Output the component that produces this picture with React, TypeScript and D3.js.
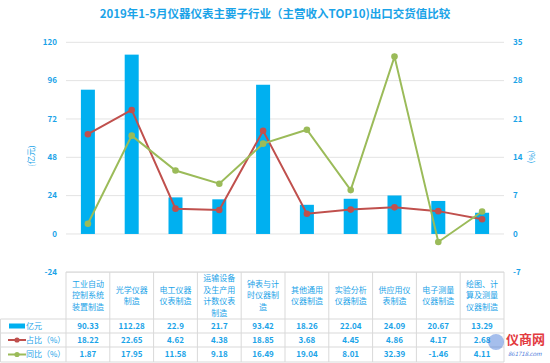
import React from "react";
import * as d3 from "d3";

const categories: string[][] = [
  ["工业自动", "控制系统", "装置制造"],
  ["光学仪器", "制造"],
  ["电工仪器", "仪表制造"],
  ["运输设备", "及生产用", "计数仪表", "制造"],
  ["钟表与计", "时仪器制", "造"],
  ["其他通用", "仪器制造"],
  ["实验分析", "仪器制造"],
  ["供应用仪", "表制造"],
  ["电子测量", "仪器制造"],
  ["绘图、计", "算及测量", "仪器制造"],
];
const value: number[] = [90.33, 112.28, 22.9, 21.7, 93.42, 18.26, 22.04, 24.09, 20.67, 13.29];
const share: number[] = [18.22, 22.65, 4.62, 4.38, 18.85, 3.68, 4.45, 4.86, 4.17, 2.68];
const growth: number[] = [1.87, 17.95, 11.58, 9.18, 16.49, 19.04, 8.01, 32.39, -1.46, 4.11];
const leftTicks: number[] = [-24, 0, 24, 48, 72, 96, 120];
const rightTicks: number[] = [-7, 0, 7, 14, 21, 28, 35];
const seriesNames = ["亿元", "占比（%）", "同比（%）"];

const BLUE = "#00B0F0";
const RED = "#C0504D";
const GREEN = "#9BBB59";
const TXT = "#1AA3E8";
const GRID = "#E3E3E3";
const BORDER = "#D9D9D9";
const FONT = "'Noto Sans CJK SC', 'Noto Sans', sans-serif";

export default function App() {
  const W = 550, H = 363;
  const left = 66, right = 504;
  const top = 42.3, bottom = 272.3;
  const ids = categories.map((_, i) => String(i));
  const x = d3.scaleBand<string>().domain(ids).range([left, right]).padding(0);
  const yL = d3.scaleLinear().domain([-24, 120]).range([bottom, top]);
  const yR = d3.scaleLinear().domain([-7, 35]).range([bottom, top]);
  const cx = (i: number) => (x(String(i)) as number) + x.bandwidth() / 2;
  const barW = 14;

  const line = d3
    .line<number>()
    .x((_, i) => cx(i))
    .y((d) => yR(d));

  const tableTop = 272;
  const rowLines = [319, 333, 347, 362];
  const rowCenters = [326, 340, 354.5];
  const headerCenter = (tableTop + rowLines[0]) / 2;
  const rows = [value, share, growth];
  const fmt = (v: number) => String(v);

  return (
    <svg
      width={W}
      height={H}
      style={{ position: "absolute", left: 0, top: 0, background: "#fff" }}
      fontFamily={FONT}
    >
      <rect x={0} y={0} width={W} height={H} fill="#fff" />
      <text x={275} y={18} textAnchor="middle" fontSize={11.5} fontWeight="bold" fill={TXT}>
        2019年1-5月仪器仪表主要子行业（主营收入TOP10)出口交货值比较
      </text>

      {leftTicks.map((t) => (
        <g key={"g" + t}>
          <line x1={left} x2={right} y1={yL(t)} y2={yL(t)} stroke={GRID} strokeWidth={1} />
          <text x={57} y={yL(t)} dy="0.35em" textAnchor="end" fontSize={8} fontWeight="bold" fill={TXT}>
            {t}
          </text>
        </g>
      ))}
      {rightTicks.map((t) => (
        <text key={"r" + t} x={513} y={yR(t)} dy="0.35em" textAnchor="start" fontSize={8} fontWeight="bold" fill={TXT}>
          {t}
        </text>
      ))}
      <text transform={`translate(31,156) rotate(-90)`} textAnchor="middle" dy="0.35em" fontSize={8} fill={TXT}>
        (亿元)
      </text>
      <text transform={`translate(532,157) rotate(90)`} textAnchor="middle" dy="0.35em" fontSize={8} fill={TXT}>
        (%)
      </text>

      {value.map((v, i) => (
        <rect
          key={"b" + i}
          x={cx(i) - barW / 2}
          y={Math.min(yL(v), yL(0))}
          width={barW}
          height={Math.abs(yL(0) - yL(v))}
          fill={BLUE}
        />
      ))}

      <path d={line(share) || ""} fill="none" stroke={RED} strokeWidth={2} />
      <path d={line(growth) || ""} fill="none" stroke={GREEN} strokeWidth={2} />
      {share.map((v, i) => (
        <circle key={"s" + i} cx={cx(i)} cy={yR(v)} r={3.3} fill={RED} />
      ))}
      {growth.map((v, i) => (
        <circle key={"gr" + i} cx={cx(i)} cy={yR(v)} r={3.3} fill={GREEN} />
      ))}

      {/* table */}
      <line x1={left} x2={right} y1={tableTop} y2={tableTop} stroke={BORDER} />
      {rowLines.map((y, k) => (
        <line key={"rl" + k} x1={0.5} x2={right} y1={y} y2={y} stroke={BORDER} />
      ))}
      <line x1={0.5} x2={0.5} y1={rowLines[0]} y2={rowLines[3]} stroke={BORDER} />
      {d3.range(categories.length + 1).map((i) => {
        const xx = left + i * x.bandwidth();
        return <line key={"vl" + i} x1={xx} x2={xx} y1={tableTop} y2={rowLines[3]} stroke={BORDER} />;
      })}
      {categories.map((lines, i) => {
        const lh = 11.5;
        const start = headerCenter - ((lines.length - 1) * lh) / 2;
        return (
          <text key={"c" + i} textAnchor="middle" fontSize={8} fill={TXT}>
            {lines.map((l, k) => (
              <tspan key={k} x={cx(i)} y={start + k * lh} dy="0.35em">
                {l}
              </tspan>
            ))}
          </text>
        );
      })}
      {rows.map((r, ri) =>
        r.map((v, i) => (
          <text
            key={"v" + ri + "_" + i}
            x={cx(i)}
            y={rowCenters[ri]}
            dy="0.35em"
            textAnchor="middle"
            fontSize={8}
            fontWeight="bold"
            fill={TXT}
          >
            {fmt(v)}
          </text>
        ))
      )}
      {/* legend column */}
      <rect x={9} y={rowCenters[0] - 2.5} width={16} height={5} fill={BLUE} />
      <line x1={8} x2={26} y1={rowCenters[1]} y2={rowCenters[1]} stroke={RED} strokeWidth={2} />
      <circle cx={17} cy={rowCenters[1]} r={2.6} fill={RED} />
      <line x1={8} x2={26} y1={rowCenters[2]} y2={rowCenters[2]} stroke={GREEN} strokeWidth={2} />
      <circle cx={17} cy={rowCenters[2]} r={2.6} fill={GREEN} />
      {seriesNames.map((n, k) => (
        <text key={"n" + k} x={26} y={rowCenters[k]} dy="0.35em" fontSize={8} fill={TXT}>
          {n}
        </text>
      ))}

      {/* watermark */}
      <g opacity={0.9}>
        <circle cx={496} cy={342} r={8} fill="#3A6FD8" opacity={0.5} />
        <text x={506} y={344} fontSize={13} fontWeight="bold" fill="#E0262B">
          仪商网
        </text>
        <text x={508} y={356} fontSize={6} fontStyle="italic" fill="#3A6FD8">
          861718.com
        </text>
      </g>
    </svg>
  );
}
